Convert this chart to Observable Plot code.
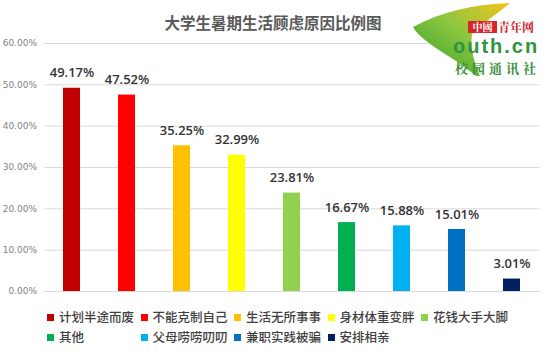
<!DOCTYPE html>
<html>
<head>
<meta charset="utf-8">
<script src="https://cdn.jsdelivr.net/npm/d3@7"></script>
<script src="https://cdn.jsdelivr.net/npm/@observablehq/plot@0.6"></script>
<style>
  body { margin: 0; background: #fff; }
  #wrap { position: relative; width: 550px; height: 352px; overflow: hidden; background: #fff; }
  #chart { position: absolute; left: 0; top: 0; }
  .title { position: absolute; left: 0; width: 546px; top: 10px; text-align: center;
    font-family: "Noto Sans CJK SC", sans-serif; font-weight: bold; font-size: 15.5px; color: #595959; line-height: 24px; }
  .leg { position: absolute; font-family: "Noto Sans CJK SC", sans-serif; font-size: 12.5px; font-weight: 500;
    color: #404040; line-height: 16px; white-space: nowrap; }
  .leg .sw { display: inline-block; width: 7px; height: 7px; margin-right: 5px; vertical-align: 1px; }
  #logo { position: absolute; left: 400px; top: 0; width: 150px; height: 80px; }
  .lg { position: absolute; white-space: nowrap; }
</style>
</head>
<body>
<div id="wrap">
  <div id="chart"></div>
  <div class="title">大学生暑期生活顾虑原因比例图</div>
  <div id="logo">
    <svg width="150" height="80" style="position:absolute;left:0;top:0">
      <defs>
        <linearGradient id="lf" x1="0" y1="1" x2="1" y2="0">
          <stop offset="0" stop-color="#2f9e2a"/>
          <stop offset="0.55" stop-color="#8cc63f"/>
          <stop offset="1" stop-color="#f4c51c"/>
        </linearGradient>
      </defs>
      <rect x="50" y="36" width="100" height="44" fill="#fff"/>
      <path d="M13,27 C40,12 75,4 110,3 C98,14 80,24 72,34 C70,48 74,62 80,76 L76,76 C60,62 40,52 25,40 C19,35 15,31 13,27 Z" fill="url(#lf)"/>
    </svg>
    <div class="lg" style="left:68px;top:21px;width:29px;height:12px;background:#d7262b;color:#fff;font-family:'Noto Serif CJK SC','Noto Sans CJK SC',serif;font-size:10px;line-height:12px;text-align:center;font-weight:bold">中國</div>
    <div class="lg" style="left:98px;top:20px;color:#c8232c;font-family:'Noto Serif CJK SC','Noto Sans CJK SC',serif;font-size:12px;line-height:14px;font-weight:bold">青年网</div>
    <div class="lg" style="left:53px;top:38px;color:#2f9440;font-family:'Liberation Sans',sans-serif;font-size:20px;line-height:16px;font-weight:bold;letter-spacing:2px">outh.cn</div>
    <div class="lg" style="left:55px;top:61px;color:#3b8f3a;font-family:'Noto Serif CJK SC','Noto Sans CJK SC',serif;font-size:13px;line-height:13px;font-weight:bold;letter-spacing:4px">校园通讯社</div>
  </div>
  <div id="legend"></div>
</div>
<script>
const categories = ["计划半途而废", "不能克制自己", "生活无所事事", "身材体重变胖", "花钱大手大脚", "其他", "父母唠唠叨叨", "兼职实践被骗", "安排相亲"];
const values = [49.17, 47.52, 35.25, 32.99, 23.81, 16.67, 15.88, 15.01, 3.01];
const colors = ["#C00000", "#FF0000", "#FFC000", "#FFFF00", "#92D050", "#00B050", "#00B0F0", "#0070C0", "#002060"];
const yTicks = [0, 10, 20, 30, 40, 50, 60];

const data = categories.map((c, i) => ({cat: c, val: values[i]}));
const fmt = d => d.toFixed(2) + "%";

const chart = Plot.plot({
  width: 550,
  height: 352,
  marginTop: 43,
  marginBottom: 61,
  marginLeft: 44.5,
  marginRight: 10.5,
  style: {background: "transparent"},
  x: {domain: categories, paddingInner: 0.69, paddingOuter: 0.345, axis: null},
  y: {domain: [0, 60], label: null},
  color: {domain: categories, range: colors},
  marks: [
    Plot.gridY(yTicks, {stroke: "#d9d9d9", strokeOpacity: 1, strokeWidth: 1}),
    Plot.axisY(yTicks, {tickSize: 0, tickPadding: 8, tickFormat: fmt, fontSize: 9,
      fill: "#7f7f7f", fontFamily: "DejaVu Sans", label: null}),
    Plot.barY(data, {x: "cat", y: "val", fill: "cat"}),
    Plot.text(data, {x: "cat", y: "val", text: d => fmt(d.val), dy: -15, fontSize: 13,
      fill: "#333333", fontWeight: 600, fontFamily: "Open Sans"})
  ]
});
document.getElementById("chart").appendChild(chart);

const legend = document.getElementById("legend");
categories.forEach((c, i) => {
  const row = i < 5 ? 0 : 1;
  const col = i < 5 ? i : i - 5;
  const el = document.createElement("div");
  el.className = "leg";
  el.style.left = (47 + col * 93.5) + "px";
  el.style.top = (309 + row * 20) + "px";
  el.innerHTML = `<span class="sw" style="background:${colors[i]}"></span>${c}`;
  legend.appendChild(el);
});
</script>
</body>
</html>
